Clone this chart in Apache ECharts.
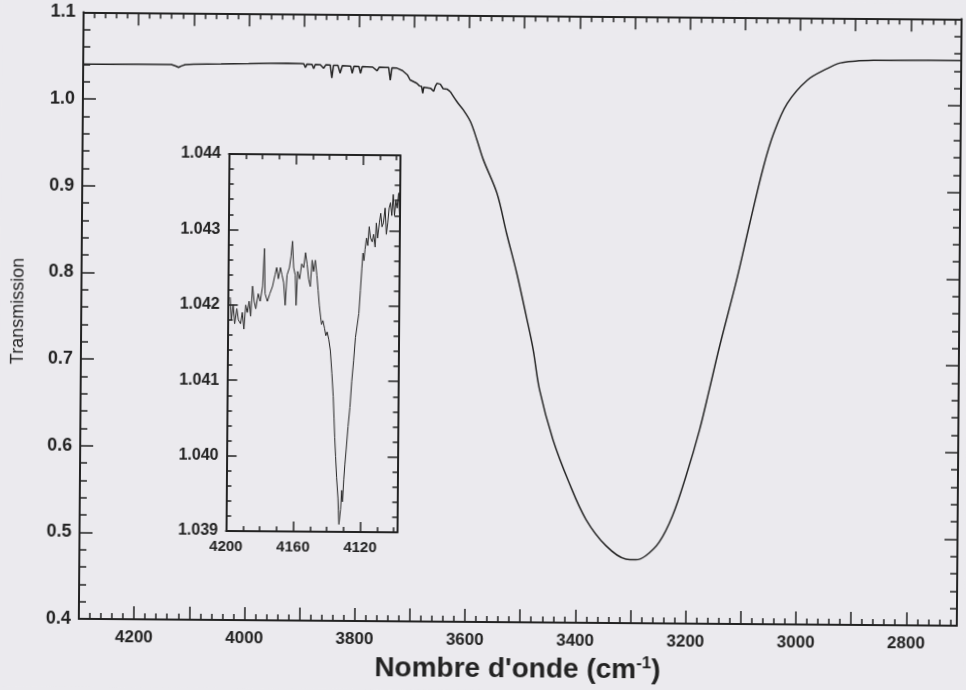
<!DOCTYPE html>
<html>
<head>
<meta charset="utf-8">
<script src="https://cdn.jsdelivr.net/npm/echarts@6/dist/echarts.min.js"></script>
<style>
  html, body { margin: 0; padding: 0; background: #ebeaee; overflow: hidden; }
  #chart { width: 966px; height: 690px; transform: rotate(0.45deg); }
</style>
</head>
<body>
<div id="chart"></div>
<script>
// Full spectrum: wavenumber (cm-1) and transmission
const mainWavenumber = [
  4300, 4250, 4200, 4160, 4140, 4132, 4127, 4122, 4115, 4100, 4050, 4000, 3960, 3930, 3905,
  3900, 3897, 3894, 3885, 3882, 3879, 3870, 3864, 3860, 3852, 3849, 3846, 3838, 3834, 3830,
  3822, 3815, 3812, 3809, 3800, 3797, 3794, 3785, 3775, 3767, 3763, 3752, 3746, 3743, 3740,
  3731, 3721, 3712, 3707, 3695, 3690, 3686, 3684, 3682, 3670, 3664, 3661, 3658, 3652, 3647,
  3640, 3634, 3622, 3610, 3597, 3585, 3573, 3548, 3530, 3511, 3493, 3480, 3468, 3443, 3413,
  3382, 3345, 3309, 3291, 3273, 3249, 3225, 3201, 3177, 3160, 3142, 3112, 3089, 3065, 3047,
  3023, 2987, 2951, 2927, 2900, 2867, 2800, 2708
];
const mainTransmission = [
  1.0400, 1.0401, 1.0403, 1.0405, 1.0403, 1.0386, 1.0372, 1.0388, 1.0404, 1.0410, 1.0414, 1.0420, 1.0426, 1.0430, 1.0428,
  1.0425, 1.0380, 1.0422, 1.0418, 1.0370, 1.0418, 1.0416, 1.0375, 1.0414, 1.0413, 1.0262, 1.0410, 1.0408, 1.0320, 1.0406,
  1.0404, 1.0402, 1.0320, 1.0400, 1.0398, 1.0320, 1.0397, 1.0395, 1.0392, 1.0350, 1.0392, 1.0390, 1.0388, 1.0242, 1.0386,
  1.0382, 1.0355, 1.0306, 1.0248, 1.0210, 1.0180, 1.0172, 1.0095, 1.0165, 1.0154, 1.0120, 1.0180, 1.0212, 1.0200, 1.0150,
  1.0145, 1.0116, 1.0002, 0.9906, 0.9772, 0.9562, 0.9332, 0.8949, 0.8489, 0.8030, 0.7530, 0.7147, 0.6687, 0.6113, 0.5616,
  0.5195, 0.4891, 0.4740, 0.4733, 0.4780, 0.4936, 0.5244, 0.5705, 0.6244, 0.6705, 0.7205, 0.7973, 0.8627, 0.9279, 0.9664,
  1.0010, 1.0280, 1.0416, 1.0483, 1.0505, 1.0515, 1.0520, 1.0521
];

// Detail of the 4200-4098 cm-1 region
const insetWavenumber = [
  4198.6, 4197.8, 4196.8, 4195.8, 4194.6, 4193.6, 4192.3, 4191.3, 4190.3, 4189.3, 4188.3, 4187.3, 4186.3, 4185.3, 4184.3,
  4183.3, 4181.9, 4180.7, 4179.3, 4178.4, 4177.8, 4176.4, 4175.0, 4173.4, 4172.0, 4171.0, 4170.0, 4168.8, 4167.8, 4166.8,
  4165.8, 4164.8, 4163.4, 4162.5, 4161.7, 4160.9, 4159.9, 4159.3, 4158.5, 4157.3, 4156.1, 4154.9, 4153.9, 4152.9, 4151.9,
  4150.9, 4149.9, 4149.0, 4148.0, 4147.0, 4146.2, 4145.4, 4144.6, 4144.0, 4143.2, 4142.2, 4141.4, 4140.6, 4139.6, 4138.6,
  4137.6, 4136.7, 4136.1, 4135.6, 4135.0, 4134.3, 4133.4, 4133.1, 4132.7, 4131.8, 4131.2, 4130.7, 4130.0, 4129.4, 4128.7,
  4127.7, 4126.7, 4125.7, 4124.7, 4123.7, 4122.7, 4121.8, 4121.0, 4120.2, 4119.6, 4119.0, 4118.4, 4117.6, 4116.8, 4116.0,
  4115.2, 4114.2, 4113.4, 4112.4, 4111.8, 4111.0, 4110.0, 4109.2, 4108.4, 4107.6, 4106.6, 4105.8, 4105.0, 4104.2, 4103.4,
  4102.6, 4101.8, 4101.0, 4100.2, 4099.4, 4098.6, 4098.0
];
const insetTransmission = [
  1.04210, 1.04180, 1.04200, 1.04175, 1.04195, 1.04180, 1.04175, 1.04190, 1.04168, 1.04200, 1.04190, 1.04205, 1.04185, 1.04225, 1.04205,
  1.04195, 1.04215, 1.04205, 1.04225, 1.04275, 1.04215, 1.04205, 1.04215, 1.04225, 1.04240, 1.04250, 1.04235, 1.04250, 1.04240, 1.04230,
  1.04200, 1.04240, 1.04250, 1.04265, 1.04285, 1.04250, 1.04240, 1.04200, 1.04245, 1.04235, 1.04255, 1.04250, 1.04270, 1.04255, 1.04235,
  1.04225, 1.04260, 1.04245, 1.04260, 1.04240, 1.04220, 1.04200, 1.04185, 1.04175, 1.04180, 1.04170, 1.04160, 1.04165, 1.04155, 1.04140,
  1.04110, 1.04080, 1.04050, 1.04025, 1.04000, 1.03972, 1.03945, 1.03928, 1.03910, 1.03930, 1.03955, 1.03940, 1.03970, 1.03990, 1.04010,
  1.04040, 1.04065, 1.04100, 1.04127, 1.04158, 1.04160, 1.04190, 1.04220, 1.04250, 1.04270, 1.04260, 1.04275, 1.04290, 1.04280, 1.04305,
  1.04290, 1.04285, 1.04295, 1.04278, 1.04310, 1.04290, 1.04310, 1.04323, 1.04305, 1.04310, 1.04330, 1.04295, 1.04310, 1.04330, 1.04337,
  1.04320, 1.04348, 1.04320, 1.04340, 1.04330, 1.04350, 1.04320
];

// Tick labels
const mainXLabels = [4200, 4000, 3800, 3600, 3400, 3200, 3000, 2800];
const insetXLabels = [4200, 4160, 4120];

const ink = '#232323';
const font = 'Liberation Sans';

function ticksDown(from, to, step) {
  const out = [];
  for (let v = from; v >= to - 1e-9; v -= step) out.push(Math.round(v * 1000) / 1000);
  return out;
}
const mainMajorTicks = ticksDown(4300, 2800, 100);
const mainMinorTicks = ticksDown(4300, 2720, 20);
const insetMajorTicks = insetXLabels;
const insetMinorTicks = ticksDown(4200, 4100, 10);

function xAxisDef(grid, pos, min, max, ticks, len, withLine, labels, labelSize, labelMargin) {
  return {
    gridIndex: grid, type: 'value', position: pos, min: min, max: max, inverse: true,
    axisLine: { show: withLine, onZero: false, lineStyle: { color: ink, width: 2 } },
    axisTick: { show: true, inside: true, length: len, customValues: ticks, lineStyle: { color: ink, width: 1.5 } },
    axisLabel: labels ? {
      show: true, customValues: labels, margin: labelMargin, fontSize: labelSize,
      fontWeight: 'bold', color: ink, fontFamily: font, formatter: v => String(v)
    } : { show: false },
    splitLine: { show: false }
  };
}
function yAxisDef(grid, pos, min, max, interval, len, minorLen, labels, digits, labelSize) {
  return {
    gridIndex: grid, type: 'value', position: pos, min: min, max: max, interval: interval,
    axisLine: { show: true, onZero: false, lineStyle: { color: ink, width: 2 } },
    axisTick: { show: true, inside: true, length: len, lineStyle: { color: ink, width: 1.5 } },
    minorTick: { show: true, splitNumber: 5, length: minorLen, lineStyle: { color: ink, width: 1.5 } },
    axisLabel: labels ? {
      show: true, margin: 8, fontSize: labelSize, fontWeight: 'bold', color: ink, fontFamily: font,
      formatter: v => v.toFixed(digits)
    } : { show: false },
    splitLine: { show: false }, minorSplitLine: { show: false }
  };
}

const xAxes = [
  xAxisDef(0, 'bottom', 2708, 4300, mainMajorTicks, 13, true, mainXLabels, 17, 10),
  xAxisDef(0, 'bottom', 2708, 4300, mainMinorTicks, 6, false, null),
  xAxisDef(0, 'top', 2708, 4300, mainMajorTicks, 13, true, null),
  xAxisDef(0, 'top', 2708, 4300, mainMinorTicks, 6, false, null),
  xAxisDef(1, 'bottom', 4098, 4200, insetMajorTicks, 10, true, insetXLabels, 15, 8),
  xAxisDef(1, 'bottom', 4098, 4200, insetMinorTicks, 5, false, null),
  xAxisDef(1, 'top', 4098, 4200, insetMajorTicks, 10, true, null),
  xAxisDef(1, 'top', 4098, 4200, insetMinorTicks, 5, false, null)
];
Object.assign(xAxes[0], {
  name: "Nombre d'onde (cm{sup|-1})",
  nameLocation: 'middle',
  nameGap: 30,
  nameTextStyle: {
    fontSize: 28, lineHeight: 31, fontWeight: 'bold', color: ink, fontFamily: font,
    rich: { sup: { fontSize: 17, lineHeight: 17, fontWeight: 'bold', verticalAlign: 'top', color: ink, fontFamily: font } }
  }
});

const yAxes = [
  yAxisDef(0, 'left', 0.4, 1.1, 0.1, 13, 7, true, 1, 18),
  yAxisDef(0, 'right', 0.4, 1.1, 0.1, 13, 7, false),
  yAxisDef(1, 'left', 1.039, 1.044, 0.001, 10, 5, true, 3, 16),
  yAxisDef(1, 'right', 1.039, 1.044, 0.001, 10, 5, false)
];
Object.assign(yAxes[0], {
  name: 'Transmission',
  nameLocation: 'middle',
  nameGap: 54,
  nameTextStyle: { fontSize: 18, color: ink, fontFamily: font, padding: [0, 0, 0, 8] }
});

const mainPairs = mainWavenumber.map((w, i) => [w, mainTransmission[i]]);
const splitAt = mainWavenumber.indexOf(3634);
const insetPairs = insetWavenumber.map((w, i) => [w, insetTransmission[i]]);

const chart = echarts.init(document.getElementById('chart'), null, { renderer: 'canvas' });
chart.setOption({
  backgroundColor: '#ebeaee',
  animation: false,
  grid: [
    { left: 81, top: 15.3, width: 878, height: 607.4 },
    { left: 227.5, top: 156, width: 171, height: 377 }
  ],
  xAxis: xAxes,
  yAxis: yAxes,
  series: [
    {
      type: 'line', xAxisIndex: 0, yAxisIndex: 0, symbol: 'none',
      data: mainPairs.slice(0, splitAt + 1),
      lineStyle: { color: '#262626', width: 1.5 }
    },
    {
      type: 'line', xAxisIndex: 0, yAxisIndex: 0, symbol: 'none', smooth: 0.35,
      data: mainPairs.slice(splitAt),
      lineStyle: { color: '#262626', width: 1.5 }
    },
    {
      type: 'line', xAxisIndex: 4, yAxisIndex: 2, symbol: 'none',
      data: insetPairs,
      lineStyle: { color: '#262626', width: 1 }
    }
  ]
});
</script>
</body>
</html>
